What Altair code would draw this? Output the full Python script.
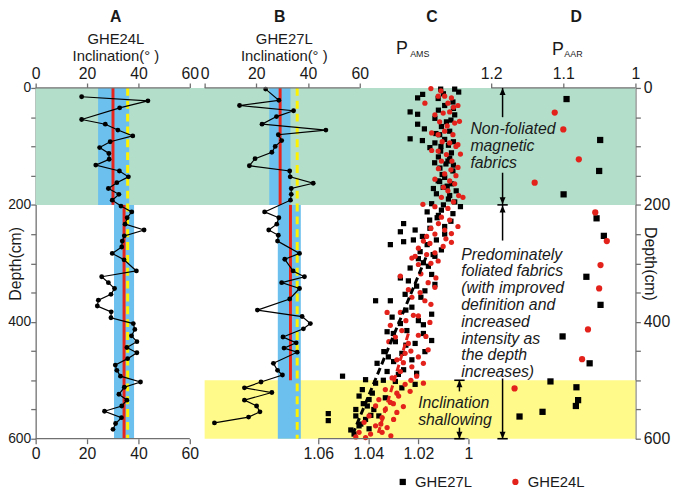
import altair as alt
import pandas as pd

# ---------------- values ----------------
depth_ticks = [0, 50, 100, 150, 200, 250, 300, 350, 400, 450, 500, 550, 600]
inc_ticks = [0, 20, 40, 60]
pams_ticks = [1.06, 1.04, 1.02, 1.0]
paar_ticks = [1.2, 1.1, 1.0]

green_zone = [0, 200]      # non-foliated
yellow_zone = [500, 600]   # inclination shallowing

# Panel A : GHE24L inclination
a_depth = [15, 22, 34, 54, 62, 72, 82, 92, 102, 112, 122, 132, 142, 152, 162, 172, 182, 192,
           202, 212, 222, 233, 243, 253, 262, 272, 283, 294, 313, 323, 333, 343, 353, 363, 373,
           383, 393, 403, 413, 424, 434, 444, 453, 463, 474, 483, 493, 503, 512, 524, 534, 544,
           553, 564, 574, 584]
a_inc = [17.9, 43.7, 32.7, 17.9, 27.1, 32.0, 37.8, 29.0, 24.9, 28.5, 28.6, 23.4, 32.6, 36.1, 31.6, 28.3, 32.4, 29.8,
         33.2, 37.4, 35.6, 34.8, 42.2, 34.5, 33.7, 33.5, 29.8, 34.4, 39.2, 25.7, 28.3, 30.7, 29.3, 24.4, 24.0,
         29.4, 29.3, 38.0, 38.6, 37.3, 39.4, 35.5, 39.4, 35.8, 31.0, 31.6, 33.0, 40.8, 34.5, 32.4, 35.5, 33.5,
         26.8, 33.4, 31.1, 30.1]
a_band_top = [0, 200]
a_band_bot = [200, 600]
a_band_lo = [24.3, 30.5]
a_band_hi = [36.4, 38.3]
a_mean_top = [0, 200]
a_mean_bot = [200, 600]
a_mean = [30.1, 34.4]

# Panel B : GHE27L inclination
b_depth = [2, 21, 30, 39, 49, 62, 72, 80, 90, 100, 110, 121, 133, 142, 152, 163, 172, 182, 192, 212,
           222, 233, 243, 252, 262, 283, 293, 313, 323, 333, 343, 361, 380, 391, 403, 412, 426, 436, 445, 452,
           471, 483, 491, 503, 513, 521, 534, 544, 554, 563, 573]
b_inc = [23.6, 28.7, 13.5, 34.4, 27.8, 22.2, 46.9, 28.5, 29.8, 27.3, 26.0, 19.5, 17.3, 32.9, 33.1, 42.0, 33.5, 33.5, 33.2, 23.2,
         28.7, 27.9, 24.8, 28.5, 28.2, 36.7, 31.0, 34.2, 38.6, 29.8, 36.7, 32.9, 20.4, 37.7, 40.9, 38.2, 30.3, 35.4, 30.7, 35.8,
         26.6, 28.2, 30.1, 21.8, 15.4, 26.0, 15.4, 20.1, 21.4, 17.0, 3.8]
b_band_top = [0, 200]
b_band_bot = [200, 600]
b_band_lo = [25.0, 28.3]
b_band_hi = [33.2, 37.2]
b_mean_top = [0, 200]
b_mean_bot = [200, 500]
b_mean = [29.2, 33.2]

expected_inc = [35.8]

# Panel C : P_AMS
c27_p = [1.0111, 1.0055, 1.0039, 1.0183, 1.0203, 1.0121, 1.0062, 1.0233, 1.0203, 1.0055,
         1.0134, 1.0203, 1.0176, 1.0108, 1.0075, 1.0233, 1.0184, 1.0134, 1.0095, 1.0154,
         1.0111, 1.0068, 1.0082, 1.0114, 1.0062, 1.0095, 1.0121, 1.0068, 1.0101, 1.0049,
         1.0128, 1.0075, 1.0032, 1.0147, 1.0108, 1.0062, 1.0259, 1.0272, 1.0213, 1.0154,
         1.0095, 1.0312, 1.0259, 1.0220, 1.0184, 1.0128, 1.0108, 1.0193, 1.0141,
         1.0095, 1.0088, 1.0115, 1.0080, 1.0120, 1.0090, 1.0105, 1.0080, 1.0125, 1.0070,
         1.0134, 1.0180, 1.0233, 1.0272, 1.0147, 1.0207, 1.0134, 1.0174, 1.0371, 1.0312,
         1.0253, 1.0226, 1.0147, 1.0305, 1.0200, 1.0272, 1.0325, 1.0246, 1.0180, 1.0292,
         1.0213, 1.0147, 1.0338, 1.0266, 1.0174, 1.0365, 1.0299, 1.0226, 1.0325, 1.0259,
         1.0207, 1.0503, 1.0411, 1.0371, 1.0292, 1.0213, 1.0424, 1.0384, 1.0266, 1.0437,
         1.0397, 1.0332, 1.0404, 1.0450, 1.0378, 1.0450, 1.0411, 1.0358, 1.0437, 1.0397,
         1.0457, 1.0560, 1.0560,
         1.0100, 1.0060, 1.0120, 1.0070, 1.0130, 1.0060, 1.0110, 1.0075, 1.0135, 1.0060,
         1.0115, 1.0085, 1.0140, 1.0055, 1.0100, 1.0165, 1.0120, 1.0155, 1.0095, 1.0165,
         1.0200, 1.0160, 1.0240, 1.0190, 1.0250, 1.0180, 1.0300, 1.0250, 1.0320, 1.0280,
         1.0340, 1.0420, 1.0390, 1.0430, 1.0470]
c27_depth = [2, 2, 7, 11, 17, 18, 24, 41, 45, 46,
             52, 62, 70, 66, 74, 87, 90, 94, 88, 102,
             108, 111, 125, 137, 142, 153, 159, 164, 170, 176,
             181, 184, 203, 198, 209, 215, 232, 246, 243, 240,
             237, 268, 263, 260, 254, 260, 277, 280, 285,
             30, 58, 80, 98, 118, 130, 148, 190, 222, 228,
             288, 299, 308, 325, 319, 339, 336, 347, 364, 364,
             353, 375, 387, 392, 398, 403, 417, 415, 420, 434,
             437, 432, 451, 454, 451, 471, 468, 465, 485, 482,
             488, 493, 499, 505, 502, 507, 516, 522, 513, 527,
             533, 530, 544, 550, 550, 561, 567, 561, 578, 583,
             592, 557, 569,
             10, 35, 38, 55, 78, 92, 100, 120, 128, 132,
             160, 168, 172, 195, 200, 212, 218, 226, 250, 268,
             292, 305, 330, 358, 380, 405, 420, 440, 460, 490,
             500, 540, 560, 575, 585]
c24_p = [1.0150, 1.0121, 1.0095, 1.0068, 1.0174, 1.0082, 1.0042, 1.0134, 1.0101, 1.0075,
         1.0055, 1.0036, 1.0147, 1.0121, 1.0095, 1.0062, 1.0075, 1.0042, 1.0121, 1.0147,
         1.0088, 1.0032, 1.0108, 1.0066, 1.0042, 1.0134, 1.0095, 1.0075, 1.0055, 1.0082,
         1.0039, 1.0022, 1.0108, 1.0182, 1.0134, 1.0082, 1.0108, 1.0075, 1.0042, 1.0095,
         1.0134, 1.0068, 1.0167, 1.0200, 1.0154, 1.0101, 1.0068, 1.0213, 1.0167, 1.0134,
         1.0226, 1.0200, 1.0121, 1.0272, 1.0161, 1.0193, 1.0134, 1.0174, 1.0226, 1.0325,
         1.0272, 1.0220, 1.0154, 1.0312, 1.0266, 1.0200, 1.0292, 1.0240, 1.0161, 1.0318,
         1.0253, 1.0200, 1.0286, 1.0226, 1.0180, 1.0272, 1.0207, 1.0305, 1.0253, 1.0180,
         1.0332, 1.0286, 1.0233, 1.0358, 1.0312, 1.0279, 1.0371, 1.0332, 1.0286, 1.0397,
         1.0345, 1.0299, 1.0417, 1.0371, 1.0325, 1.0437, 1.0391, 1.0345, 1.0450, 1.0411,
         1.0110, 1.0060, 1.0115, 1.0085, 1.0050, 1.0105, 1.0070, 1.0120, 1.0050, 1.0100,
         1.0060, 1.0120, 1.0150, 1.0090, 1.0180, 1.0150, 1.0190, 1.0130, 1.0240, 1.0150,
         1.0200, 1.0250, 1.0170, 1.0230, 1.0260, 1.0230, 1.0300, 1.0260, 1.0350, 1.0310]
c24_depth = [1, 14, 14, 17, 26, 26, 30, 46, 43, 41,
             60, 57, 77, 80, 74, 80, 94, 97, 108, 107,
             114, 113, 125, 125, 136, 156, 147, 159, 164, 176,
             184, 187, 187, 199, 203, 206, 221, 226, 237, 243,
             250, 249, 254, 274, 266, 271, 264, 288, 285, 282,
             291, 302, 296, 322, 333, 350, 341, 364, 358, 384,
             384, 389, 401, 406, 415, 423, 426, 437, 448, 434,
             454, 460, 465, 477, 471, 485, 493, 496, 507, 505,
             516, 522, 519, 533, 538, 527, 544, 550, 555, 561,
             564, 567, 572, 578, 581, 589, 592, 589, 597, 598,
             5, 33, 58, 65, 100, 92, 140, 138, 150, 170,
             195, 232, 240, 258, 262, 300, 318, 325, 345, 370,
             390, 398, 425, 450, 470, 500, 540, 545, 575, 595]
c27_trend_p = [1.017, 1.046]
c27_trend_depth = [290, 590]
c24_trend_p = [1.024, 1.036]
c24_trend_depth = [420, 590]

# Panel D : P_AAR
d27_p = [1.0955, 1.0489, 1.0503, 1.0996, 1.0539, 1.0438, 1.068, 1.0484, 1.101, 1.0635,
         1.1178, 1.0818, 1.0795, 1.0826, 1.1288, 1.1607]
d27_depth = [19, 89, 142, 182, 223, 253, 323, 371, 425, 471, 502, 512, 534, 544, 554, 562]
d24_p = [1.1119, 1.100, 1.0785, 1.1397, 1.0557, 1.0397, 1.0484, 1.0503, 1.0658, 1.074, 1.1676]
d24_depth = [42, 71, 122, 162, 213, 262, 303, 343, 413, 464, 514]

cores = ["GHE27L", "GHE24L"]

# ---------------- layout / style ----------------
W, H = 607, 355
FONT = "Liberation Sans"
AX = "#707070"
TXT = "#1a1a1a"
GREEN = "#b3dfca"
YELLOW = "#fffa8a"
BLUE = "#6cc0ee"
RED = "#e8251d"
DOT_RED = "#e3221c"
DASH_YELLOW = "#fff200"


def xscale(v0, p0, v1, p1):
    k = (p1 - p0) / (v1 - v0)
    left = v0 - p0 / k
    right = v0 + (W - p0) / k
    if left < right:
        return alt.Scale(domain=[left, right], nice=False, zero=False)
    return alt.Scale(domain=[right, left], reverse=True, nice=False, zero=False)


SA = xscale(0, 0, 60, 156)
SB = xscale(0, 171, 60, 328)
SC = xscale(1.06, 286, 1.00, 438)
SD = xscale(1.2, 461, 1.0, 607)
SY = alt.Scale(domain=[0, 600], reverse=True, nice=False, zero=False)


def xq(field, sc, axis=None):
    return alt.X(field, type="quantitative", scale=sc, axis=axis)


def yq(field, axis=None):
    return alt.Y(field, type="quantitative", scale=SY, axis=axis)


def x_axis(vals, orient, expr):
    return alt.Axis(orient=orient, values=vals, domain=False, grid=False, tickSize=5,
                    tickColor=AX, tickWidth=1.3, labelFontSize=16, labelColor=TXT,
                    labelFont=FONT, labelPadding=2, title=None, labelFlush=False,
                    labelOverlap=False, labelExpr=expr)


def y_axis(orient, title_x, angle, pad, size):
    return alt.Axis(orient=orient, values=depth_ticks,
                    labelExpr="datum.value % 200 == 0 ? datum.label : ''",
                    title="Depth(cm)", titleFont=FONT, titleFontSize=16, titleFontWeight="normal",
                    titleColor=TXT, titleX=title_x, titleY=H / 2, titleAngle=angle,
                    titleAlign="center", titleBaseline="middle",
                    labelFont=FONT, labelFontSize=size, labelColor=TXT, labelPadding=pad,
                    tickSize=5, tickColor=AX, tickWidth=1.3, domainColor=AX, domainWidth=1.3,
                    grid=False)


INT_EXPR = "format(datum.value, 'd')"
C_EXPR = "datum.value == 1 ? '1' : format(datum.value, '.2f')"
D_EXPR = "datum.value == 1 ? '1' : format(datum.value, '.1f')"

layers = []

# background zones
green_df = pd.DataFrame({"top": [green_zone[0]], "bot": [green_zone[1]]})
yellow_df = pd.DataFrame({"top": [yellow_zone[0]], "bot": [yellow_zone[1]]})
layers.append(alt.Chart(green_df).mark_rect(color=GREEN).encode(
    x=alt.value(0), x2=alt.value(W), y=yq("top", y_axis("left", -20, 270, 0, 14)), y2="bot"))
layers.append(alt.Chart(yellow_df).mark_rect(color=YELLOW).encode(
    x=alt.value(171), x2=alt.value(W), y=yq("top", y_axis("right", 14, 90, 3, 16)), y2="bot"))


def inclination_panel(sc, depth, inc, btop, bbot, blo, bhi, mtop, mbot, mval):
    out = []
    band = pd.DataFrame({"top": btop, "bot": bbot, "lo": blo, "hi": bhi})
    out.append(alt.Chart(band).mark_rect(color=BLUE).encode(
        x=xq("lo", sc), x2="hi", y=yq("top"), y2="bot"))
    mean = pd.DataFrame({"top": mtop, "bot": mbot, "x": mval})
    out.append(alt.Chart(mean).mark_rule(color=RED, strokeWidth=3).encode(
        x=xq("x", sc), y=yq("top"), y2="bot"))
    exp = pd.DataFrame({"x": expected_inc, "top": [depth_ticks[0]], "bot": [depth_ticks[-1]]})
    out.append(alt.Chart(exp).mark_rule(color=DASH_YELLOW, strokeWidth=3, strokeDash=[8, 5]).encode(
        x=xq("x", sc), y=yq("top"), y2="bot"))
    d = pd.DataFrame({"depth": depth, "inc": inc})
    out.append(alt.Chart(d).mark_line(color="black", strokeWidth=1.2).encode(
        x=xq("inc", sc), y=yq("depth"), order="depth:Q"))
    out.append(alt.Chart(d).mark_circle(color="black", size=24, opacity=1).encode(
        x=xq("inc", sc), y=yq("depth")))
    return out


layers += inclination_panel(SA, a_depth, a_inc, a_band_top, a_band_bot, a_band_lo, a_band_hi,
                            a_mean_top, a_mean_bot, a_mean)
layers += inclination_panel(SB, b_depth, b_inc, b_band_top, b_band_bot, b_band_lo, b_band_hi,
                            b_mean_top, b_mean_bot, b_mean)

# legend shared by the anisotropy panels
LEG = alt.Legend(orient="none", legendX=364, legendY=391, direction="horizontal", title=None,
                 labelFont=FONT, labelFontSize=15, labelColor=TXT, symbolSize=40,
                 labelOffset=5, columnPadding=36, symbolStrokeWidth=0)
COLOR = alt.Color("core:N", scale=alt.Scale(domain=cores, range=["#000000", DOT_RED]), legend=LEG)
SHAPE = alt.Shape("core:N", scale=alt.Scale(domain=cores, range=["square", "circle"]), legend=LEG)

c_df = pd.DataFrame({
    "p": c27_p + c24_p,
    "depth": c27_depth + c24_depth,
    "core": [cores[0]] * len(c27_p) + [cores[1]] * len(c24_p),
})
layers.append(alt.Chart(c_df).mark_point(filled=True, size=28, opacity=1).encode(
    x=xq("p", SC), y=yq("depth"), color=COLOR, shape=SHAPE))
t27 = pd.DataFrame({"p": c27_trend_p, "depth": c27_trend_depth})
t24 = pd.DataFrame({"p": c24_trend_p, "depth": c24_trend_depth})
layers.append(alt.Chart(t24).mark_line(color=DOT_RED, strokeWidth=3, strokeDash=[7, 4]).encode(
    x=xq("p", SC), y=yq("depth"), order="depth:Q"))
layers.append(alt.Chart(t27).mark_line(color="black", strokeWidth=3, strokeDash=[7, 4]).encode(
    x=xq("p", SC), y=yq("depth"), order="depth:Q"))

d_df = pd.DataFrame({
    "p": d27_p + d24_p,
    "depth": d27_depth + d24_depth,
    "core": [cores[0]] * len(d27_p) + [cores[1]] * len(d24_p),
})
layers.append(alt.Chart(d_df).mark_point(filled=True, size=40, opacity=1).encode(
    x=xq("p", SD), y=yq("depth"), color=COLOR, shape=SHAPE))

# axis lines + tick axes
def axis_line(sc, ticks, orient, expr):
    df = pd.DataFrame({"v0": [ticks[0]], "v1": [ticks[-1]]})
    yv = 0 if orient == "top" else H
    return alt.Chart(df).mark_rule(color=AX, strokeWidth=1.3).encode(
        x=xq("v0", sc, x_axis(ticks, orient, expr)), x2="v1", y=alt.value(yv))


layers.append(axis_line(SA, inc_ticks, "top", INT_EXPR))
layers.append(axis_line(SA, inc_ticks, "bottom", INT_EXPR))
layers.append(axis_line(SB, inc_ticks, "top", INT_EXPR))
layers.append(axis_line(SC, pams_ticks, "bottom", C_EXPR))
layers.append(axis_line(SD, paar_ticks, "top", D_EXPR))

# panel headings (positions in each panel's own units; negative depth = above the plot)
def heading(sc, rows, size, weight="normal", align="center"):
    df = pd.DataFrame(rows, columns=["x", "d", "t"])
    return alt.Chart(df).mark_text(font=FONT, fontSize=size, fontWeight=weight, color=TXT,
                                   align=align, baseline="middle").encode(
        x=xq("x", sc), y=yq("d"), text="t:N")


layers.append(heading(SA, [(31.2, -121.7, "A")], 16, "bold"))
layers.append(heading(SA, [(31.2, -82.8, "GHE24L"), (31.2, -54.1, "Inclination(°  )")], 15))
layers.append(heading(SB, [(29.0, -121.7, "B")], 16, "bold"))
layers.append(heading(SB, [(30.8, -82.8, "GHE27L"), (30.8, -54.1, "Inclination(°  )")], 15))
layers.append(heading(SC, [(1.0146, -121.7, "C")], 16, "bold"))
layers.append(heading(SC, [(1.0266, -66.4, "P")], 18))
layers.append(heading(SC, [(1.0233, -58.0, "AMS")], 9, align="left"))
layers.append(heading(SD, [(1.0822, -121.7, "D")], 16, "bold"))
layers.append(heading(SD, [(1.1073, -65.1, "P")], 18))
layers.append(heading(SD, [(1.0986, -57.5, "AAR")], 9, align="left"))

# arrows and interpretation notes
UP = "M0,0L-0.55,1.3L0.55,1.3Z"
DOWN = "M0,0L-0.55,-1.3L0.55,-1.3Z"
BAR = "M-1,0L1,0"


def arrows(sc, xv, segs, ups, downs, bars):
    out = []
    sdf = pd.DataFrame({"x": [xv] * len(segs), "a": [s[0] for s in segs], "b": [s[1] for s in segs]})
    out.append(alt.Chart(sdf).mark_rule(color="black", strokeWidth=1.5).encode(
        x=xq("x", sc), y=yq("a"), y2="b"))
    for pts, shp, filled, size in ((ups, UP, True, 120), (downs, DOWN, True, 120), (bars, BAR, False, 110)):
        pdf = pd.DataFrame({"x": [xv] * len(pts), "d": pts})
        out.append(alt.Chart(pdf).mark_point(shape=shp, filled=filled, color="black", size=size,
                                             opacity=1, strokeWidth=1.6).encode(
            x=xq("x", sc), y=yq("d")))
    return out


layers += arrows(SD, 1.1842, [(0, 50), (145, 200), (200, 261), (497, 600)],
                 [0, 201], [199, 600], [200, 600])
layers += arrows(SC, 1.0036, [(500, 519), (581, 600)], [500], [600], [500, 600])


def note(sc, xv, lines, depths):
    df = pd.DataFrame({"x": [xv] * len(lines), "d": depths, "t": lines})
    return alt.Chart(df).mark_text(font=FONT, fontSize=16, fontStyle="italic", color=TXT,
                                   align="left", baseline="middle").encode(
        x=xq("x", sc), y=yq("d"), text="t:N")


layers.append(note(SD, 1.2288, ["Non-foliated", "magnetic", "fabrics"], [70, 99, 128]))
layers.append(note(SD, 1.2415, ["Predominately", "foliated fabrics", "(with improved", "definition and",
                                "increased", "intensity as", "the depth", "increases)"],
                   [286, 314, 343, 372, 400, 429, 457, 486]))
layers.append(note(SC, 1.0201, ["Inclination", "shallowing"], [539, 568]))

chart = alt.layer(*layers).resolve_scale(x="independent", y="independent").properties(
    width=W, height=H,
    autosize=alt.AutoSizeParams(type="none"),
    padding={"left": 28, "top": 78, "right": 37, "bottom": 51},
).configure_view(stroke=None).configure_axis(grid=False)

chart.save("out.html", embed_options={"renderer": "svg", "actions": False})
